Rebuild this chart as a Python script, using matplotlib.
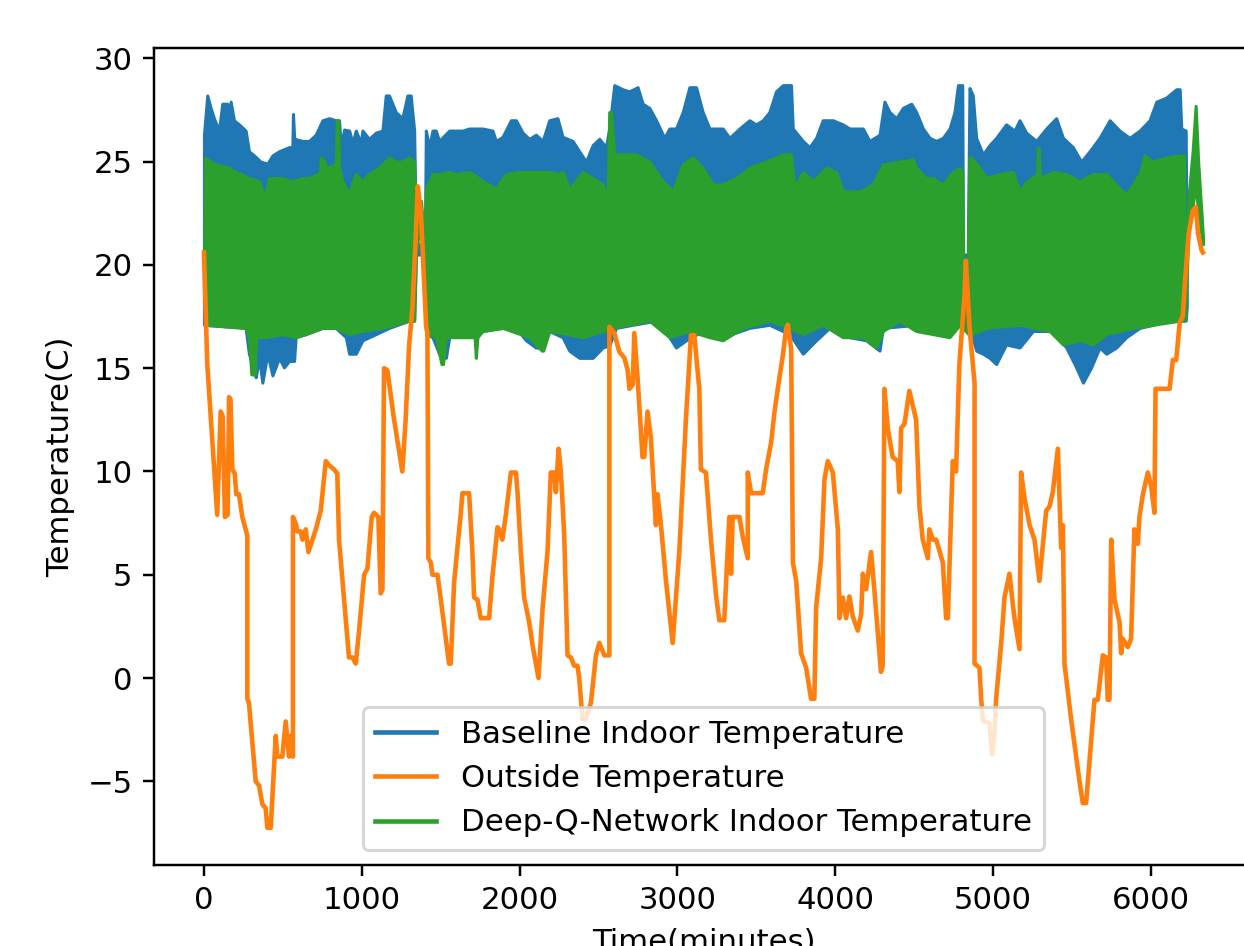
import matplotlib
matplotlib.use("Agg")
import matplotlib.pyplot as plt

# outside temperature (minutes, C)
out_t = [0, 21, 52, 84, 106, 118, 133, 150, 159, 168, 180, 195, 205, 222, 243, 275, 275, 285,
         328, 349, 370, 391, 402, 423, 455, 465, 497, 518, 539, 550, 564, 564, 581, 592, 613,
         624, 645, 662, 709, 740, 772, 793, 824, 845, 856, 898, 919, 941, 962, 983, 1015, 1036,
         1063, 1078, 1105, 1120, 1131, 1141, 1162, 1205, 1236, 1257, 1278, 1300, 1321, 1340,
         1355, 1375, 1408, 1416, 1422, 1437, 1448, 1480, 1511, 1553, 1564, 1585, 1606, 1628,
         1638, 1680, 1701, 1712, 1733, 1754, 1807, 1828, 1860, 1871, 1891, 1913, 1945, 1977,
         1987, 2008, 2029, 2061, 2082, 2120, 2146, 2177, 2198, 2219, 2230, 2247, 2262, 2283,
         2304, 2325, 2346, 2367, 2378, 2399, 2420, 2452, 2484, 2505, 2537, 2569, 2569, 2600,
         2632, 2664, 2685, 2696, 2717, 2727, 2748, 2779, 2790, 2811, 2832, 2853, 2864, 2874,
         2896, 2928, 2970, 3012, 3054, 3086, 3107, 3139, 3149, 3181, 3213, 3245, 3266, 3297,
         3329, 3340, 3350, 3393, 3414, 3446, 3446, 3467, 3541, 3562, 3594, 3615, 3636, 3668,
         3689, 3700, 3721, 3732, 3753, 3784, 3816, 3847, 3868, 3879, 3911, 3932, 3953, 3985,
         4017, 4027, 4048, 4069, 4090, 4111, 4143, 4165, 4175, 4196, 4227, 4248, 4290, 4301,
         4312, 4333, 4364, 4396, 4407, 4418, 4439, 4470, 4513, 4534, 4555, 4587, 4597, 4618,
         4640, 4682, 4703, 4714, 4745, 4766, 4787, 4819, 4828, 4851, 4883, 4883, 4914, 4925,
         4936, 4978, 4994, 5010, 5020, 5052, 5073, 5104, 5136, 5168, 5178, 5200, 5232, 5263,
         5294, 5337, 5358, 5379, 5411, 5432, 5443, 5453, 5496, 5548, 5569, 5590, 5622, 5643,
         5664, 5696, 5717, 5727, 5738, 5749, 5770, 5802, 5812, 5823, 5854, 5875, 5896, 5918,
         5928, 5949, 5981, 6002, 6023, 6030, 6119, 6140, 6161, 6183, 6202, 6215, 6240, 6265,
         6285, 6300, 6322, 6330]
out_v = [20.6, 15.2, 11.6, 7.9, 12.9, 12.7, 7.8, 7.9, 13.6, 13.5, 10.1, 9.9, 8.9, 8.9, 7.8, 6.9,
         -1.0, -1.2, -5.0, -5.2, -6.1, -6.3, -7.25, -7.25, -2.8, -3.8, -3.8, -2.1, -3.8, -2.8,
         -3.8, 7.8, 7.5, 7.1, 7.1, 6.7, 7.2, 6.1, 7.2, 8.1, 10.5, 10.3, 10.1, 9.9, 6.7, 2.9, 1.0,
         1.0, 0.7, 2.3, 5.0, 5.3, 7.8, 8.0, 7.8, 4.1, 4.3, 15.0, 14.9, 12.5, 11.0, 10.0, 12.5,
         16.1, 17.9, 21.0, 23.8, 22.5, 17.0, 16.7, 5.8, 5.6, 5.0, 5.0, 3.2, 0.7, 0.7, 4.6, 6.3,
         8.0, 8.95, 8.95, 6.1, 3.9, 3.8, 2.9, 2.9, 4.9, 7.3, 7.2, 6.7, 7.9, 9.95, 9.95, 9.0, 6.1,
         3.9, 2.7, 1.6, 0.0, 3.4, 6.1, 9.95, 9.95, 9.0, 11.1, 9.95, 6.9, 1.1, 1.0, 0.6, 0.6, 0.0,
         -2.0, -2.0, -1.2, 1.1, 1.7, 1.1, 1.1, 17.0, 16.7, 15.8, 15.5, 14.9, 14.0, 14.2, 16.7,
         14.5, 10.7, 10.7, 12.9, 11.6, 8.9, 7.4, 8.9, 7.4, 4.7, 1.7, 6.1, 12.5, 16.6, 16.6, 14.0,
         10.1, 9.95, 6.7, 4.0, 2.8, 2.8, 7.8, 5.05, 7.8, 7.8, 6.85, 5.8, 9.95, 8.95, 8.95, 10.1,
         11.4, 12.85, 14.0, 15.6, 16.9, 17.1, 15.9, 5.6, 4.7, 1.2, 0.5, -1.0, -1.0, 3.4, 5.8,
         9.6, 10.5, 9.95, 7.2, 2.9, 3.9, 2.9, 3.95, 3.0, 2.3, 3.1, 5.05, 4.3, 6.1, 4.3, 0.3, 0.6,
         14.0, 12.1, 10.7, 10.5, 9.0, 12.1, 12.3, 13.9, 12.5, 8.3, 6.7, 5.8, 7.2, 6.7, 6.7, 5.6,
         2.9, 2.9, 10.5, 10.0, 15.2, 18.5, 20.2, 17.0, 14.3, 0.7, 0.5, -1.0, -2.05, -2.2, -3.7,
         -2.6, -1.0, 1.7, 3.9, 5.05, 2.9, 1.4, 9.95, 8.7, 7.4, 6.7, 4.7, 8.1, 8.3, 9.0, 11.1, 6.3,
         7.4, 0.7, -2.05, -5.0, -6.05, -6.05, -3.0, -1.05, -1.05, 1.1, 1.0, -1.05, -1.05, 6.7,
         3.8, 2.7, 1.2, 1.9, 1.5, 1.9, 7.2, 6.5, 7.8, 8.85, 9.95, 9.3, 8.0, 14.0, 14.0, 15.4,
         15.4, 17.2, 17.5, 19.0, 21.5, 22.6, 22.8, 21.5, 20.7, 20.6]

# baseline indoor temperature oscillates fast: upper and lower envelope
base_hi_t = [0, 21, 42, 63, 95, 116, 148, 158, 169, 190, 222, 264, 285, 317, 359, 402, 434, 476,
             539, 560, 564, 572, 624, 666, 708, 751, 793, 835, 856, 867, 888, 920, 941, 962,
             994, 1004, 1046, 1089, 1131, 1152, 1173, 1215, 1257, 1289, 1310, 1332, 1343, 1400,
             1406, 1427, 1448, 1469, 1490, 1554, 1638, 1681, 1765, 1828, 1850, 1892, 1945, 1977,
             2019, 2061, 2103, 2146, 2188, 2240, 2272, 2336, 2378, 2421, 2463, 2505, 2547, 2568,
             2600, 2653, 2695, 2748, 2780, 2822, 2865, 2917, 2949, 2991, 3034, 3076, 3118, 3160,
             3203, 3287, 3330, 3393, 3456, 3498, 3541, 3583, 3625, 3668, 3720, 3731, 3795, 3837,
             3879, 3921, 3985, 4048, 4091, 4175, 4217, 4281, 4312, 4344, 4387, 4429, 4482, 4513,
             4556, 4598, 4640, 4682, 4725, 4756, 4778, 4805, 4810, 4840, 4851, 4872, 4893, 4936,
             4978, 5020, 5083, 5136, 5168, 5210, 5274, 5337, 5400, 5443, 5506, 5559, 5612, 5675,
             5739, 5802, 5865, 5929, 5992, 6035, 6098, 6161, 6183, 6193, 6221, 6228]
base_hi_v = [26.3, 28.2, 27.6, 27.1, 26.5, 27.8, 27.8, 27.0, 27.9, 27.0, 26.8, 26.5, 25.5, 25.3,
             25.0, 24.9, 25.3, 25.5, 25.7, 25.7, 27.3, 26.1, 26.0, 26.0, 26.3, 27.0, 27.1, 27.0,
             27.0, 25.7, 26.55, 26.5, 25.9, 26.5, 25.9, 26.5, 26.1, 26.4, 26.5, 28.2, 28.2, 27.4,
             27.1, 28.2, 28.2, 26.5, 21.0, 21.0, 26.5, 25.7, 26.5, 26.5, 26.0, 26.5, 26.5, 26.6,
             26.6, 26.5, 26.0, 26.2, 27.0, 27.0, 26.4, 26.1, 26.3, 26.0, 27.0, 27.1, 26.2, 26.0,
             25.5, 25.0, 25.8, 26.1, 25.7, 26.6, 28.7, 28.5, 28.4, 28.6, 27.8, 27.6, 27.0, 26.15,
             26.6, 26.6, 27.4, 28.6, 28.6, 27.4, 26.6, 26.6, 26.15, 26.6, 27.0, 26.8, 27.0, 27.4,
             28.4, 28.7, 28.7, 26.6, 26.0, 25.7, 26.15, 27.0, 27.0, 26.8, 26.6, 26.6, 26.0, 26.3,
             27.9, 27.4, 27.1, 27.6, 27.8, 27.4, 26.6, 26.15, 26.0, 26.15, 26.6, 27.4, 28.7, 28.7,
             20.5, 20.5, 28.56, 28.2, 26.15, 25.35, 25.8, 26.15, 26.8, 26.5, 27.0, 26.4, 26.0,
             26.6, 27.1, 26.15, 25.7, 25.0, 25.5, 26.15, 27.0, 26.5, 26.15, 26.5, 27.0, 27.9, 28.1,
             28.5, 28.5, 26.6, 26.5, 18.6]
base_lo_t = [0, 264, 285, 328, 349, 370, 402, 434, 476, 507, 539, 571, 581, 645, 751, 835, 899,
             920, 962, 1004, 1089, 1173, 1300, 1332, 1343, 1400, 1410, 1448, 1490, 1533, 1554,
             1638, 1723, 1765, 1892, 1977, 2040, 2103, 2146, 2188, 2272, 2315, 2378, 2463, 2526,
             2568, 2611, 2717, 2865, 2949, 2991, 3055, 3160, 3287, 3456, 3583, 3710, 3795, 3879,
             3985, 4090, 4196, 4281, 4302, 4513, 4620, 4725, 4810, 4852, 4894, 4936, 4978, 5020,
             5083, 5168, 5253, 5379, 5464, 5527, 5570, 5622, 5675, 5718, 5781, 5844, 5929, 6014,
             6098, 6221, 6228]
base_lo_v = [17.1, 16.95, 15.7, 14.56, 15.5, 14.3, 15.7, 14.65, 15.5, 15.04, 15.35, 15.35, 16.5,
             16.65, 16.95, 16.95, 16.5, 15.7, 15.7, 16.35, 16.65, 16.95, 17.3, 17.3, 20.5, 20.5,
             16.65, 16.5, 15.7, 15.5, 16.5, 16.8, 16.5, 16.8, 16.95, 16.95, 16.35, 16.0, 16.0,
             16.8, 16.5, 15.85, 15.5, 15.5, 16.0, 16.1, 16.95, 17.1, 17.3, 16.5, 16.0, 16.35, 16.8,
             16.5, 16.95, 17.1, 16.65, 15.7, 16.35, 17.1, 16.5, 16.35, 15.85, 16.95, 17.1, 16.8,
             16.95, 17.3, 16.95, 15.85, 15.7, 15.5, 15.2, 16.15, 16.0, 16.8, 16.8, 16.0, 15.04,
             14.3, 15.04, 16.0, 15.7, 16.0, 16.5, 16.95, 17.1, 17.3, 17.3, 18.0]

# deep-q-network indoor temperature envelope
dqn_hi_t = [0, 8, 42, 74, 116, 159, 201, 243, 285, 349, 370, 391, 412, 434, 497, 560, 624, 666,
            719, 735, 740, 762, 772, 835, 842, 850, 856, 877, 919, 941, 962, 1004, 1046, 1089,
            1131, 1173, 1215, 1257, 1300, 1332, 1343, 1375, 1400, 1406, 1448, 1490, 1554, 1596,
            1681, 1723, 1765, 1850, 1913, 1998, 2103, 2188, 2240, 2273, 2315, 2357, 2399, 2442,
            2526, 2558, 2568, 2579, 2600, 2738, 2822, 2907, 2970, 3034, 3097, 3160, 3224, 3287,
            3372, 3456, 3562, 3668, 3720, 3742, 3795, 3858, 3943, 4006, 4048, 4154, 4239, 4302,
            4408, 4492, 4513, 4576, 4619, 4682, 4746, 4788, 4805, 4812, 4840, 4850, 4862, 4914,
            4957, 5041, 5126, 5168, 5210, 5280, 5284, 5290, 5296, 5379, 5464, 5549, 5633, 5718,
            5802, 5844, 5929, 5961, 6014, 6098, 6183, 6210, 6218, 6240, 6265, 6284, 6300, 6331]
dqn_hi_v = [20.0, 25.2, 25.0, 24.86, 24.8, 24.7, 24.5, 24.37, 24.2, 24.05, 23.6, 23.4, 24.2,
            24.2, 24.2, 24.05, 24.2, 24.2, 24.4, 24.4, 25.2, 25.0, 24.7, 24.86, 27.0, 27.0, 24.7,
            24.05, 23.4, 24.0, 24.4, 24.05, 24.4, 24.6, 24.86, 25.2, 25.0, 25.0, 25.2, 25.0, 21.5,
            23.1, 21.0, 23.7, 24.4, 24.4, 24.5, 24.4, 24.5, 24.3, 24.05, 23.7, 24.4, 24.5, 24.5,
            24.5, 24.4, 24.5, 23.7, 24.05, 24.5, 24.3, 23.9, 23.1, 27.4, 27.4, 25.35, 25.35, 25.0,
            24.05, 23.56, 24.86, 25.2, 24.7, 23.9, 23.9, 24.2, 24.7, 25.0, 25.35, 25.35, 23.7,
            24.5, 24.05, 24.7, 24.5, 23.56, 23.56, 23.9, 24.86, 25.0, 25.1, 24.7, 24.2, 24.2, 23.9,
            24.5, 24.7, 24.5, 19.5, 19.5, 25.2, 25.2, 24.7, 24.2, 24.4, 24.5, 23.56, 24.0, 24.4,
            25.66, 25.66, 24.2, 24.5, 24.4, 24.05, 24.4, 24.4, 23.7, 23.4, 24.4, 25.3, 25.0, 25.2,
            25.3, 25.3, 19.0, 23.4, 25.5, 27.7, 25.0, 21.3]
dqn_lo_t = [0, 8, 264, 285, 300, 322, 330, 391, 497, 581, 645, 751, 835, 919, 1004, 1131, 1300,
            1332, 1343, 1375, 1400, 1410, 1469, 1505, 1515, 1533, 1715, 1723, 1733, 1765, 1892,
            2061, 2140, 2150, 2188, 2300, 2400, 2590, 2822, 2949, 3076, 3203, 3287, 3414, 3583,
            3710, 3795, 3921, 4048, 4175, 4260, 4302, 4407, 4513, 4618, 4724, 4790, 4850, 4957,
            5168, 5358, 5443, 5549, 5633, 5718, 5887, 6014, 6183, 6210, 6218, 6240, 6265, 6284,
            6300, 6331]
dqn_lo_v = [19.8, 17.1, 16.95, 16.5, 14.7, 14.7, 16.5, 16.5, 16.65, 16.5, 16.65, 16.95, 16.95,
            16.65, 16.8, 16.95, 17.3, 17.3, 20.5, 22.4, 20.5, 16.65, 16.5, 15.2, 15.2, 16.5, 16.5,
            15.5, 16.5, 16.8, 16.95, 16.5, 15.85, 15.85, 16.8, 16.65, 16.5, 16.95, 17.3, 16.5,
            16.8, 16.5, 16.35, 16.95, 17.3, 16.95, 16.65, 17.1, 16.5, 16.5, 16.0, 16.8, 17.3, 16.8,
            16.65, 16.5, 17.1, 16.6, 16.95, 17.1, 16.8, 16.15, 16.35, 16.15, 16.65, 16.95, 17.1,
            17.3, 17.3, 17.5, 22.0, 22.8, 24.0, 22.5, 21.0]

labels = ["Baseline Indoor Temperature", "Outside Temperature",
          "Deep-Q-Network Indoor Temperature"]


def band(t_hi, v_hi, t_lo, v_lo):
    # put both envelopes on one set of times so fill_between can use them
    import numpy as np
    t = np.array(sorted(set(t_hi) | set(t_lo)), dtype=float)
    return t, np.interp(t, t_hi, v_hi), np.interp(t, t_lo, v_lo)


fig = plt.figure(figsize=(1244 / 221, 946 / 221), dpi=221)
ax = fig.add_axes([154 / 1244, 81 / 946, 1099 / 1244, 817 / 946])

t, hi, lo = band(base_hi_t, base_hi_v, base_lo_t, base_lo_v)
ax.fill_between(t, lo, hi, color="C0", lw=1)
ax.plot(out_t, out_v, color="C1")
t, hi, lo = band(dqn_hi_t, dqn_hi_v, dqn_lo_t, dqn_lo_v)
ax.fill_between(t, lo, hi, color="C2", lw=1)

# legend shows plain lines
for c, lab in zip(["C0", "C1", "C2"], labels):
    ax.plot([], [], color=c, label=lab)
ax.legend(loc="lower center")

ax.set_xlabel("Time(minutes)")
ax.set_ylabel("Temperature(C)")

fig.savefig("out.png", dpi=221)
